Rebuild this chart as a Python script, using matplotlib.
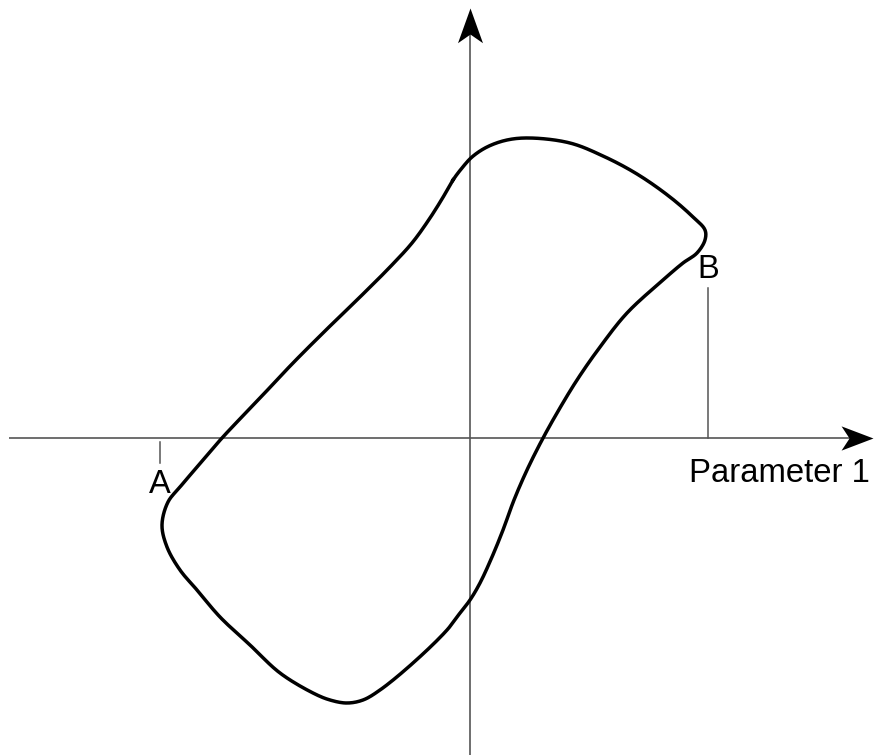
import numpy as np
import matplotlib
matplotlib.use("Agg")
import matplotlib.pyplot as plt
from matplotlib.path import Path

plt.rcParams['font.family'] = ['Liberation Sans', 'DejaVu Sans']

# Loop points (x right, y up, origin at axes crossing), clockwise
loop_x = [-17, -8, 2, 17, 37, 60, 100, 133, 167, 200, 223, 235, 235, 227, 213,
          193, 157, 130, 107, 87, 72, 57, 44, 33, 22, 10, 0, -10, -23, -57, -90,
          -107, -123, -140, -157, -190, -220, -250, -273, -290, -303, -308, -302,
          -290, -273, -248, -210, -177, -143, -110, -80, -58, -42, -28]
loop_y = [258, 270, 281, 291, 298, 300, 295, 282, 264, 241, 221, 208, 198, 185,
          175, 158, 125, 91, 58, 25, -2, -32, -62, -92, -119, -145, -162, -175,
          -192, -225, -252, -262, -265, -262, -255, -235, -207, -179, -152, -132,
          -109, -87, -64, -49, -29, 0, 40, 75, 109, 141, 171, 195, 217, 239]

point_A = -310
point_B = 238
xlabel = "Parameter 1"

fig = plt.figure(figsize=(8.74, 7.55), dpi=100)
ax = fig.add_axes([0, 0, 1, 1])
ax.set_xlim(-470, 404)
ax.set_ylim(-317, 438)
ax.axis('off')

# centripetal Catmull-Rom closed smoothing for drawing
P = np.column_stack([loop_x, loop_y]).astype(float)
n = len(P)
segs = []
for i in range(n):
    p0, p1, p2, p3 = P[(i - 1) % n], P[i], P[(i + 1) % n], P[(i + 2) % n]
    t0 = 0.0
    t1 = t0 + np.linalg.norm(p1 - p0) ** 0.5
    t2 = t1 + np.linalg.norm(p2 - p1) ** 0.5
    t3 = t2 + np.linalg.norm(p3 - p2) ** 0.5
    t = np.linspace(t1, t2, 14, endpoint=False)[:, None]
    A1 = (t1 - t) / (t1 - t0) * p0 + (t - t0) / (t1 - t0) * p1
    A2 = (t2 - t) / (t2 - t1) * p1 + (t - t1) / (t2 - t1) * p2
    A3 = (t3 - t) / (t3 - t2) * p2 + (t - t2) / (t3 - t2) * p3
    B1 = (t2 - t) / (t2 - t0) * A1 + (t - t0) / (t2 - t0) * A2
    B2 = (t3 - t) / (t3 - t1) * A2 + (t - t1) / (t3 - t1) * A3
    segs.append((t2 - t) / (t2 - t1) * B1 + (t - t1) / (t2 - t1) * B2)
C = np.vstack(segs + [P[:1]])
ax.plot(C[:, 0], C[:, 1], color='black', lw=2.5, solid_joinstyle='round', zorder=3)

axis_col = '#555555'
# axis lines
ax.plot([-461, 392], [0, 0], color=axis_col, lw=1.2, solid_capstyle='butt')
ax.plot([0, 0], [-317, 418], color=axis_col, lw=1.2, solid_capstyle='butt')

# stealth arrowheads (tip at origin of marker path)
right_head = Path([(0, 0), (-1, 0.38), (-0.75, 0), (-1, -0.38), (0, 0)],
                  [Path.MOVETO, Path.LINETO, Path.LINETO, Path.LINETO, Path.CLOSEPOLY])
up_head = Path([(0, 0), (0.36, -1), (0, -0.75), (-0.36, -1), (0, 0)],
               [Path.MOVETO, Path.LINETO, Path.LINETO, Path.LINETO, Path.CLOSEPOLY])
ax.plot([403], [0], marker=right_head, ms=46, color='black', mew=0, zorder=4)
ax.plot([0], [430], marker=up_head, ms=50, color='black', mew=0, zorder=4)

# markers A and B
ax.plot([point_A, point_A], [-4, -25], color=axis_col, lw=1.1)
ax.text(point_A, -55, 'A', ha='center', va='baseline', fontsize=23.5)
ax.plot([point_B, point_B], [0, 150], color=axis_col, lw=1.1)
ax.text(point_B, 160, 'B', ha='center', va='baseline', fontsize=23.5)

ax.text(219, -44, xlabel, ha='left', va='baseline', fontsize=23.7)

fig.savefig('out.png', dpi=100)
